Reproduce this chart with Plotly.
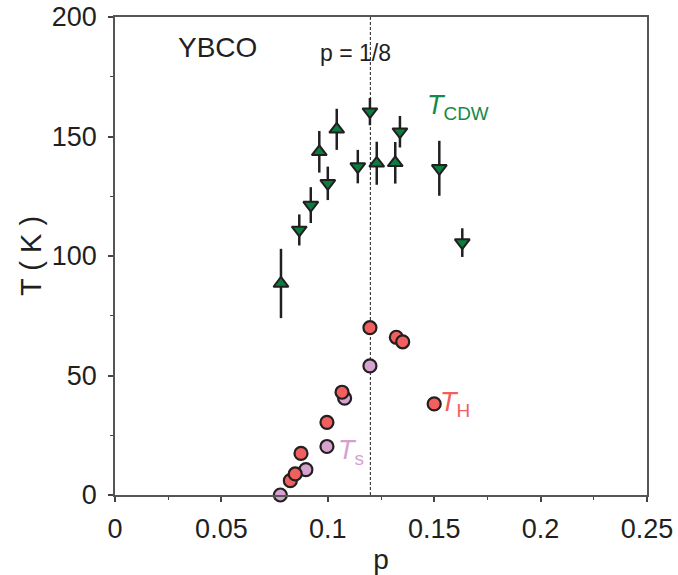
import plotly.graph_objects as go

# ---- data ----
# T_CDW, up triangles
up_p = [0.078, 0.096, 0.1042, 0.123, 0.1317]
up_T = [88.5, 143.6, 153.0, 138.8, 139.0]
up_err = [14.5, 8.7, 8.6, 9.0, 8.7]

# T_CDW, down triangles
dn_p = [0.0866, 0.0920, 0.1000, 0.1141, 0.1198, 0.1339, 0.1524, 0.1632]
dn_T = [110.9, 121.3, 130.4, 137.4, 160.4, 152.0, 136.7, 105.6]
dn_err = [6.5, 7.5, 7.0, 7.0, 5.7, 6.6, 11.5, 6.0]

# T_s (purple circles)
ts_p = [0.0777, 0.0897, 0.0996, 0.1079, 0.1198]
ts_T = [0.0, 10.6, 20.3, 40.5, 54.0]

# T_H (red circles)
th_p = [0.0824, 0.0847, 0.0874, 0.0996, 0.1067, 0.1198, 0.1322, 0.1352, 0.150]
th_T = [6.0, 8.8, 17.4, 30.4, 43.0, 70.0, 66.0, 64.1, 38.1]

x_ticks = [0, 0.05, 0.1, 0.15, 0.2, 0.25]
x_ticktext = ["0", "0.05", "0.1", "0.15", "0.2", "0.25"]
y_ticks = [0, 50, 100, 150, 200]
p_eighth = 0.12

INK = "#231f20"
GREEN = "#0b7d3e"
RED = "#f1605e"
PURPLE = "#d6a2cf"
FONT = "Liberation Sans, Arial, sans-serif"

fig = go.Figure()

fig.add_trace(go.Scatter(
    x=up_p, y=up_T, mode="markers",
    error_y=dict(type="data", array=up_err, visible=True, color=INK, thickness=2.5, width=0),
    marker=dict(symbol="triangle-up", size=13, color=GREEN, line=dict(color=INK, width=2)),
    showlegend=False))

fig.add_trace(go.Scatter(
    x=dn_p, y=dn_T, mode="markers",
    error_y=dict(type="data", array=dn_err, visible=True, color=INK, thickness=2.5, width=0),
    marker=dict(symbol="triangle-down", size=13, color=GREEN, line=dict(color=INK, width=2)),
    showlegend=False))

fig.add_trace(go.Scatter(
    x=ts_p, y=ts_T, mode="markers", cliponaxis=False,
    marker=dict(symbol="circle", size=13, color=PURPLE, line=dict(color=INK, width=2.2)),
    showlegend=False))

fig.add_trace(go.Scatter(
    x=th_p, y=th_T, mode="markers", cliponaxis=False,
    marker=dict(symbol="circle", size=13, color=RED, line=dict(color=INK, width=2.2)),
    showlegend=False))

fig.add_shape(type="line", xref="x", yref="paper", x0=p_eighth, x1=p_eighth, y0=0, y1=1,
              line=dict(color=INK, width=1, dash="3px,2px"), layer="below")

annos = [
    dict(x=0.048, y=187.4, text="YBCO", font=dict(size=28, color=INK, family=FONT)),
    dict(x=0.113, y=185.0, text="p = 1/8", font=dict(size=23, color=INK, family=FONT)),
    dict(x=0.1614, y=162.5, text="<i>T</i><sub>CDW</sub>",
         font=dict(size=27, color="#138a47", family=FONT)),
    dict(x=0.1598, y=38.0, text="<i>T</i><sub>H</sub>",
         font=dict(size=27, color="#f05e5e", family=FONT)),
    dict(x=0.1109, y=18.0, text="<i>T</i><sub>s</sub>",
         font=dict(size=27, color="#d79fd0", family=FONT)),
]
for a in annos:
    fig.add_annotation(xref="x", yref="y", showarrow=False, **a)

# y-axis title placed as rotated text in the left margin
fig.add_annotation(xref="paper", yref="paper", x=-0.158, y=0.5, xanchor="center", yanchor="middle",
                   text="T ( K )", textangle=-90, showarrow=False,
                   font=dict(size=29, color=INK, family=FONT))

axis_common = dict(
    showgrid=False, zeroline=False, showline=True, linecolor="#555555", linewidth=1.5,
    mirror=True, ticks="outside", ticklen=5, tickwidth=1.5, tickcolor="#444444",
    tickfont=dict(size=27, color=INK, family=FONT), automargin=False,
)

fig.update_layout(
    width=678, height=575,
    margin=dict(l=115, r=31, t=17, b=80),
    paper_bgcolor="white", plot_bgcolor="white",
    font=dict(family=FONT, color=INK),
    xaxis=dict(range=[0, 0.25], tickvals=x_ticks, ticktext=x_ticktext,
               minor=dict(dtick=0.025, ticks="outside", ticklen=3, tickwidth=1.2, tickcolor="#444444"),
               title=dict(text="p", font=dict(size=28, color=INK, family=FONT), standoff=6),
               ticklabelstandoff=4, **axis_common),
    yaxis=dict(range=[0, 200], tickvals=y_ticks,
               minor=dict(dtick=25, ticks="outside", ticklen=3, tickwidth=1.2, tickcolor="#444444"),
               ticklabelstandoff=6, **axis_common),
)

fig.write_html("out.html")
